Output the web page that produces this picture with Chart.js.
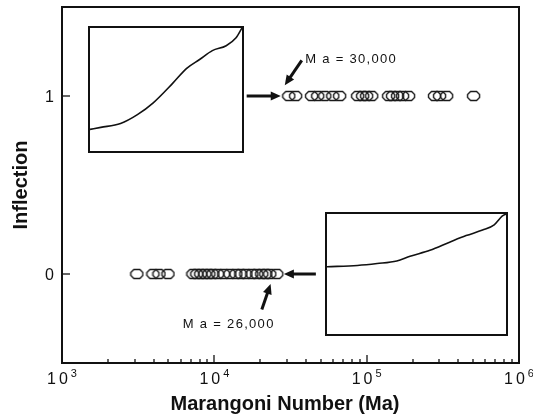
<!DOCTYPE html>
<html>
<head>
<meta charset="utf-8">
<script src="https://cdn.jsdelivr.net/npm/chart.js@4.4.1/dist/chart.umd.min.js"></script>
<style>
  body { margin: 0; background: #fff; }
  #wrap { position: relative; width: 533px; height: 420px; }
  .inset { position: absolute; box-sizing: border-box; border: 2px solid #111; background: #fff; }
  .inset canvas { display: block; }
</style>
</head>
<body>
<div id="wrap">
  <canvas id="main" width="533" height="420"></canvas>
  <div class="inset" style="left:88px;top:26px;width:156px;height:127px;"><canvas id="curve-top" width="152" height="123"></canvas></div>
  <div class="inset" style="left:325px;top:212px;width:183px;height:124px;"><canvas id="curve-bottom" width="179" height="120"></canvas></div>
</div>
<script>
// Marangoni numbers
const maInflected = [30800, 34200, 43500, 47700, 53100, 59900, 66500, 87300, 94100, 100000, 107900,
  139400, 148000, 159600, 172100, 188400, 279000, 301000, 334900, 503300];
const maNoInflection = [3100, 3950, 4330, 4960, 7230, 7680, 8150, 8660, 9200, 9780, 10540, 11540,
  12640, 13840, 14930, 16110, 17630, 19000, 20490, 21770, 23130, 25700];

const xTickExponents = [3, 4, 5, 6];
const yTickValues = [0, 1];

// inset profiles (normalised to the inset box)
const upperCurveX = [0, 0.071, 0.201, 0.312, 0.416, 0.545, 0.636, 0.721, 0.805, 0.896, 0.961, 1];
const upperCurveY = [0.176, 0.192, 0.224, 0.296, 0.392, 0.552, 0.672, 0.744, 0.816, 0.856, 0.92, 1];
const lowerCurveX = [0, 0.17, 0.28, 0.39, 0.464, 0.575, 0.685, 0.777, 0.869, 0.934, 0.98, 1];
const lowerCurveY = [0.56, 0.571, 0.587, 0.609, 0.648, 0.697, 0.765, 0.82, 0.866, 0.91, 0.984, 1];

// hollow octagon marker
const marker = document.createElement('canvas');
marker.width = 15; marker.height = 12;
(function () {
  const c = marker.getContext('2d');
  c.strokeStyle = '#1a1a1a';
  c.lineWidth = 1.4;
  c.beginPath();
  c.moveTo(1.5, 4.5); c.lineTo(4.5, 1.5); c.lineTo(10.5, 1.5); c.lineTo(13.5, 4.5);
  c.lineTo(13.5, 7.5); c.lineTo(10.5, 10.5); c.lineTo(4.5, 10.5); c.lineTo(1.5, 7.5);
  c.closePath();
  c.stroke();
})();

function arrow(ctx, x0, y0, x1, y1) {
  const ang = Math.atan2(y1 - y0, x1 - x0);
  const head = 10;
  ctx.lineWidth = 3;
  ctx.beginPath();
  ctx.moveTo(x0, y0);
  ctx.lineTo(x1 - Math.cos(ang) * head * 0.8, y1 - Math.sin(ang) * head * 0.8);
  ctx.stroke();
  ctx.beginPath();
  ctx.moveTo(x1, y1);
  ctx.lineTo(x1 - Math.cos(ang) * head + Math.sin(ang) * 4.5, y1 - Math.sin(ang) * head - Math.cos(ang) * 4.5);
  ctx.lineTo(x1 - Math.cos(ang) * head - Math.sin(ang) * 4.5, y1 - Math.sin(ang) * head + Math.cos(ang) * 4.5);
  ctx.closePath();
  ctx.fill();
}

const decorations = {
  id: 'decorations',
  afterDraw(chart) {
    const { ctx, chartArea: a, scales: { x, y } } = chart;
    ctx.save();
    ctx.strokeStyle = '#111';
    ctx.fillStyle = '#111';

    // frame
    ctx.lineWidth = 2;
    ctx.strokeRect(a.left, a.top, a.right - a.left, a.bottom - a.top);

    // x ticks, inward
    ctx.lineWidth = 1.3;
    for (let e = 3; e < 6; e++) {
      for (let m = 1; m <= 9; m++) {
        const px = Math.round(x.getPixelForValue(m * Math.pow(10, e)));
        const len = m === 1 ? 8 : 4;
        ctx.beginPath();
        ctx.moveTo(px, a.bottom);
        ctx.lineTo(px, a.bottom - len);
        ctx.stroke();
      }
    }
    // y ticks, inward
    yTickValues.forEach(v => {
      const py = Math.round(y.getPixelForValue(v));
      ctx.beginPath();
      ctx.moveTo(a.left, py);
      ctx.lineTo(a.left + 8, py);
      ctx.stroke();
    });

    // x tick labels 10^n
    ctx.textBaseline = 'alphabetic';
    xTickExponents.forEach(e => {
      const px = x.getPixelForValue(Math.pow(10, e));
      ctx.font = '16px "Liberation Sans", Arial, sans-serif';
      ctx.letterSpacing = '3px';
      const wBase = ctx.measureText('10').width;
      ctx.font = '11px "Liberation Sans", Arial, sans-serif';
      ctx.letterSpacing = '0px';
      const wExp = ctx.measureText(String(e)).width;
      const left = px - (wBase + wExp) / 2;
      ctx.textAlign = 'left';
      ctx.font = '16px "Liberation Sans", Arial, sans-serif';
      ctx.letterSpacing = '3px';
      ctx.fillText('10', left, 384);
      ctx.font = '11px "Liberation Sans", Arial, sans-serif';
      ctx.letterSpacing = '0px';
      ctx.fillText(String(e), left + wBase, 377);
    });

    // y tick labels
    ctx.font = '16px "Liberation Sans", Arial, sans-serif';
    ctx.textAlign = 'right';
    yTickValues.forEach(v => {
      ctx.fillText(String(v), 54, y.getPixelForValue(v) + 6);
    });

    // axis titles
    ctx.font = 'bold 20px "Liberation Sans", Arial, sans-serif';
    ctx.textAlign = 'center';
    ctx.fillText('Marangoni Number (Ma)', 285, 410);
    ctx.save();
    ctx.translate(27, 185);
    ctx.rotate(-Math.PI / 2);
    ctx.fillText('Inflection', 0, 0);
    ctx.restore();

    // arrows
    arrow(ctx, x.getPixelForValue(16300), y.getPixelForValue(1), x.getPixelForValue(27300), y.getPixelForValue(1));
    arrow(ctx, x.getPixelForValue(37500), y.getPixelForValue(1.2), x.getPixelForValue(29000), y.getPixelForValue(1.06));
    arrow(ctx, x.getPixelForValue(46400), y.getPixelForValue(0), x.getPixelForValue(28600), y.getPixelForValue(0));
    arrow(ctx, x.getPixelForValue(20500), y.getPixelForValue(-0.2), x.getPixelForValue(23400), y.getPixelForValue(-0.056));

    // annotations
    ctx.font = '13px "Liberation Sans", Arial, sans-serif';
    ctx.letterSpacing = '1.3px';
    ctx.textAlign = 'left';
    ctx.fillText('M a = 30,000', x.getPixelForValue(39500), y.getPixelForValue(1.185));
    ctx.fillText('M a = 26,000', x.getPixelForValue(6210), y.getPixelForValue(-0.303));
    ctx.restore();
  }
};

new Chart(document.getElementById('main'), {
  type: 'scatter',
  data: {
    datasets: [
      { data: maInflected.map(v => ({ x: v, y: 1 })), pointStyle: marker },
      { data: maNoInflection.map(v => ({ x: v, y: 0 })), pointStyle: marker }
    ]
  },
  options: {
    responsive: false,
    animation: false,
    devicePixelRatio: 1,
    layout: { padding: { left: 62, top: 7, right: 14, bottom: 57 } },
    plugins: { legend: { display: false }, tooltip: { enabled: false } },
    scales: {
      x: { type: 'logarithmic', min: 1000, max: 1000000, display: false },
      y: { type: 'linear', min: -0.5, max: 1.5, display: false }
    }
  },
  plugins: [decorations]
});

function insetChart(id, xs, ys) {
  new Chart(document.getElementById(id), {
    type: 'scatter',
    data: {
      datasets: [{
        data: xs.map((v, i) => ({ x: v, y: ys[i] })),
        showLine: true,
        borderColor: '#111',
        borderWidth: 1.6,
        pointRadius: 0,
        cubicInterpolationMode: 'monotone',
        clip: false
      }]
    },
    options: {
      responsive: false,
      animation: false,
      devicePixelRatio: 1,
      layout: { padding: 0 },
      plugins: { legend: { display: false }, tooltip: { enabled: false } },
      scales: {
        x: { type: 'linear', min: 0, max: 1, display: false },
        y: { type: 'linear', min: 0, max: 1, display: false }
      }
    }
  });
}
insetChart('curve-top', upperCurveX, upperCurveY);
insetChart('curve-bottom', lowerCurveX, lowerCurveY);
</script>
</body>
</html>
